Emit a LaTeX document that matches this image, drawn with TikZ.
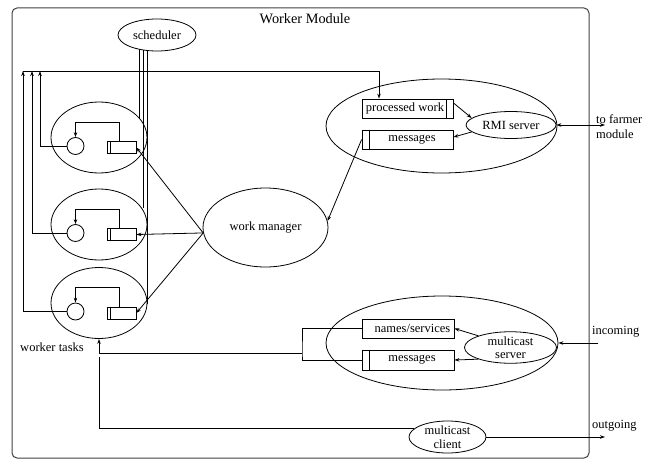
\documentclass[tikz,border=0pt]{standalone}
\usepackage{fontspec}
\setmainfont{Liberation Serif}
\usetikzlibrary{shapes.geometric,arrows.meta}
\begin{document}
\begin{tikzpicture}[x=1pt,y=-1pt,
  every node/.style={font=\fontsize{12.5}{13.5}\selectfont},
  ln/.style={line width=0.8pt},
  arr/.style={ln,-{Stealth[length=5pt,width=3.5pt]}},
  dbl/.style={ln,{Stealth[length=5pt,width=3.5pt]}-{Stealth[length=5pt,width=3.5pt]}},
  ell/.style={ellipse,draw,ln,inner sep=0pt},
  box/.style={rectangle,draw,ln,inner sep=0pt},
  lbl/.style={inner sep=0pt,align=left,anchor=west}]
\useasboundingbox (0,0) rectangle (652,460);
% module frame
\draw[line width=1pt,black!75,rounded corners=5pt] (12,8) rectangle (589,458);
\node[font=\fontsize{14.3}{16}\selectfont] (title) at (305,18.5) {Worker Module};

% scheduler
\node[ell,minimum width=78pt,minimum height=32pt] (sched) at (157,35) {scheduler};

% worker tasks
\foreach \i/\e/\xo in {1/137.5/40, 2/224.5/32, 3/303/23} {
  \node[ell,minimum width=96pt,minimum height=71pt] (w\i) at (99,\e) {};
  \node[circle,draw,ln,minimum size=17pt,inner sep=0pt] (c\i) at (75.5,\e+8.5) {};
  \node[box,minimum width=29pt,minimum height=12pt] (b\i) at (121.5,\e+10) {};
  \draw[ln] ([xshift=4pt]b\i.north west) -- ([xshift=4pt]b\i.south west);
  \draw[arr] ([xshift=-2.5pt]b\i.north) -- ++(0,-19) -| (c\i.north);
  \coordinate (t\i) at (\xo,71);
  \draw[arr] (c\i.west) -| (t\i);
}
\node (wt) at (52,347) {worker tasks};

% scheduler links
\coordinate (s1) at (139,49);   \coordinate (e1) at (139,118);
\coordinate (s2) at (143,50);   \coordinate (e2) at (143,208);
\coordinate (s3) at (147,50.5); \coordinate (e3) at (147,304);
\draw[ln] (s1) -- (e1);
\draw[ln] (s2) -- (e2);
\draw[ln] (s3) -- (e3);

% RMI part
\node[ell,minimum width=231pt,minimum height=94pt] (rmi) at (441.5,126) {};
\node[box,minimum width=91pt,minimum height=19pt,label={[xshift=-2.5pt]center:processed work}] (pw) at (407.5,108.5) {};
\draw[ln] ([xshift=-7pt]pw.north east) -- ([xshift=-7pt]pw.south east);
\node[box,minimum width=91pt,minimum height=19pt,label={[xshift=4.5pt]center:messages}] (msg) at (407.5,139.5) {};
\draw[ln] ([xshift=8pt]msg.north west) -- ([xshift=8pt]msg.south west);
\node[ell,minimum width=90pt,minimum height=27pt] (rmis) at (511,125) {RMI server};
\draw[arr] (pw.7) -- (rmis.170);
\draw[arr] (rmis.190) -- (msg.3);
\coordinate (farm) at (605,125);
\draw[dbl] (rmis.east) -- (farm);
\node[lbl,anchor=north west] (farmt) at (596,114) {to farmer\\[1.5pt]module};

% collected results path
\coordinate (tr) at (379,71);
\draw[arr] (t3) -- (tr) -- (tr |- pw.north);

% work manager
\node[ell,minimum width=125pt,minimum height=79pt] (wm) at (265.5,227.5) {work manager};
\draw[arr] (msg.west) -- (wm.6);
\draw[arr] (wm.185) -- (b1.east);
\draw[arr] (wm.185) -- (b2.east);
\draw[arr] (wm.185) -- (b3.east);

% multicast part
\node[ell,minimum width=232pt,minimum height=94pt] (mc) at (442,343) {};
\node[box,minimum width=92pt,minimum height=19pt,label={[xshift=4.5pt]center:names/services}] (ns) at (408,328.5) {};
\node[box,minimum width=92pt,minimum height=20pt,label={[xshift=4pt]center:messages}] (msg2) at (408,360) {};
\draw[ln] ([xshift=8pt]msg2.north west) -- ([xshift=8pt]msg2.south west);
\node[ell,minimum width=92pt,minimum height=31pt,align=center] (mcs) at (510.5,347.5) {multicast\\server};
\draw[arr] (mcs.160) -- (ns.east);
\draw[arr] (mcs.200) -- (msg2.east);
\coordinate (inc) at (598,343);
\draw[arr] (inc) -- (mc.east);
\node[lbl] (inct) at (592,332) {incoming};

\coordinate (brk) at (302,353.5);
\draw[ln] (ns.west) -| (brk) |- (msg2.west);
\draw[arr] (brk) -| (w3.south);

% multicast client
\node[ell,minimum width=77pt,minimum height=32pt,align=center] (mcc) at (447.5,437) {multicast\\client};
\coordinate (cw) at (99,357);
\draw[ln] (mcc.166) -| (cw);
\coordinate (out) at (605,437);
\draw[arr] (mcc.east) -- (out);
\node[lbl] (outt) at (592,426) {outgoing};
\end{tikzpicture}
\end{document}
